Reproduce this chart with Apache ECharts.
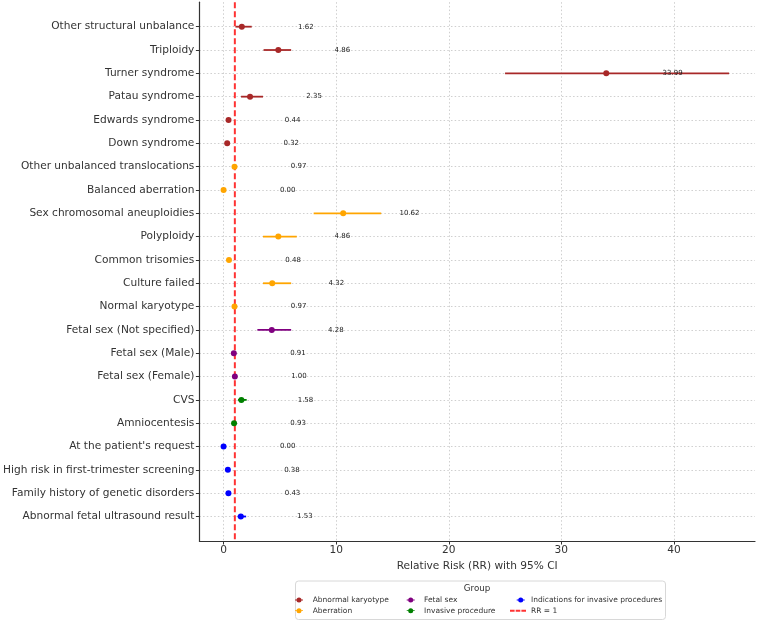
<!DOCTYPE html>
<html>
<head>
<meta charset="utf-8">
<script src="https://cdn.jsdelivr.net/npm/echarts@6/dist/echarts.min.js"></script>
<style>
html,body{margin:0;padding:0;background:#fff;}
#chart{width:758px;height:621px;}
</style>
</head>
<body>
<div id="chart"></div>
<script>
const categories = [
  'Other structural unbalance', 'Triploidy', 'Turner syndrome', 'Patau syndrome',
  'Edwards syndrome', 'Down syndrome', 'Other unbalanced translocations', 'Balanced aberration',
  'Sex chromosomal aneuploidies', 'Polyploidy', 'Common trisomies', 'Culture failed',
  'Normal karyotype', 'Fetal sex (Not specified)', 'Fetal sex (Male)', 'Fetal sex (Female)',
  'CVS', 'Amniocentesis', "At the patient's request", 'High risk in first-trimester screening',
  'Family history of genetic disorders', 'Abnormal fetal ultrasound result'
];
const rowGroup = [
  'Abnormal karyotype', 'Abnormal karyotype', 'Abnormal karyotype', 'Abnormal karyotype',
  'Abnormal karyotype', 'Abnormal karyotype', 'Aberration', 'Aberration',
  'Aberration', 'Aberration', 'Aberration', 'Aberration',
  'Aberration', 'Fetal sex', 'Fetal sex', 'Fetal sex',
  'Invasive procedure', 'Invasive procedure', 'Indications for invasive procedures', 'Indications for invasive procedures',
  'Indications for invasive procedures', 'Indications for invasive procedures'
];
const rr     = [1.62, 4.86, 33.99, 2.35, 0.44, 0.32, 0.97, 0.00, 10.62, 4.86, 0.48, 4.32, 0.97, 4.28, 0.91, 1.00, 1.58, 0.93, 0.00, 0.38, 0.43, 1.53];
const ciLow  = [1.05, 3.55, 25.00, 1.55, 0.35, 0.25, 0.88, 0.00, 8.00, 3.50, 0.38, 3.50, 0.92, 3.00, 0.86, 0.94, 1.28, 0.88, 0.00, 0.30, 0.34, 1.25];
const ciHigh = [2.50, 6.00, 44.90, 3.50, 0.55, 0.41, 1.07, 0.00, 14.00, 6.50, 0.60, 6.00, 1.02, 6.00, 0.97, 1.06, 2.05, 0.98, 0.00, 0.48, 0.54, 2.00];
const groupNames  = ['Abnormal karyotype', 'Aberration', 'Fetal sex', 'Invasive procedure', 'Indications for invasive procedures'];
const groupColors = ['#a82828', '#ffa500', '#800080', '#008000', '#0000ff'];
const xTicks = [0, 10, 20, 30, 40];
const refValue = 1;
const labelShift = 5;

const FONT = "'DejaVu Sans', 'Liberation Sans', sans-serif";
const chart = echarts.init(document.getElementById('chart'), null, {renderer: 'canvas'});

const yIdx = categories.map((c, i) => i);
const series = [];

// red reference line
series.push({
  name: 'RR = 1', type: 'line', z: 2, symbol: 'none', silent: true,
  data: [[refValue, -1.05], [refValue, 22.05]],
  itemStyle: {color: '#ff3333'},
  lineStyle: {color: '#ff3333', width: 2, type: [6, 3]}
});

groupNames.forEach((g, gi) => {
  const rows = yIdx.filter(i => rowGroup[i] === g);
  series.push({
    name: g, type: 'scatter', z: 4, symbol: 'circle', symbolSize: 6,
    itemStyle: {color: groupColors[gi], opacity: 1},
    data: rows.map(i => [rr[i], i])
  });
  series.push({
    name: g, type: 'custom', z: 3,
    itemStyle: {color: groupColors[gi]},
    encode: {x: [1, 2], y: 0},
    data: rows.map(i => [i, ciLow[i], ciHigh[i]]),
    renderItem: function (params, api) {
      const y = api.value(0);
      const p1 = api.coord([api.value(1), y]);
      const p2 = api.coord([api.value(2), y]);
      return {type: 'line', shape: {x1: p1[0], y1: p1[1], x2: p2[0], y2: p2[1]},
              style: {stroke: groupColors[gi], lineWidth: 1.8}};
    }
  });
});

// value labels
series.push({
  name: 'labels', type: 'custom', z: 6, silent: true,
  encode: {x: 1, y: 0},
  data: yIdx.map(i => [i, rr[i]]),
  renderItem: function (params, api) {
    const y = api.value(0);
    const v = api.value(1);
    const p = api.coord([v + labelShift, y]);
    return {type: 'text', x: p[0], y: p[1],
            style: {text: v.toFixed(2), fill: '#222', fontSize: 7, fontFamily: FONT,
                    align: 'left', verticalAlign: 'middle'}};
  }
});

const ebIcon = 'path://M0,2.1L1.6,2.1L1.6,2.9L0,2.9Z M6.4,2.1L8,2.1L8,2.9L6.4,2.9Z M1.5,2.5A2.5,2.5,0,1,1,6.5,2.5A2.5,2.5,0,1,1,1.5,2.5Z';
const dashIcon = 'path://M0,0L4.6,0L4.6,2L0,2Z M5.7,0L10.3,0L10.3,2L5.7,2Z M11.4,0L16,0L16,2L11.4,2Z';
const legendBase = {
  orient: 'vertical', top: 595.5, itemHeight: 5, itemWidth: 8, itemGap: 1.7,
  selectedMode: false, padding: 0,
  textStyle: {fontSize: 7.5, fontFamily: FONT, color: '#333', lineHeight: 9}
};
function leg(names, left, pad) {
  return Object.assign({}, legendBase, {
    left: left,
    textStyle: Object.assign({}, legendBase.textStyle, {padding: [0, 0, 0, pad]}),
    data: names.map(n => ({name: n, icon: ebIcon,
      itemStyle: {color: groupColors[groupNames.indexOf(n)], borderWidth: 0}}))
  });
}

const option = {
  backgroundColor: '#fff',
  animation: false,
  textStyle: {fontFamily: FONT},
  grid: {left: 199, right: 3, top: 2.2, bottom: 80, containLabel: false},
  xAxis: {
    type: 'value', min: -2.15, max: 47.2,
    name: 'Relative Risk (RR) with 95% CI', nameLocation: 'middle', nameGap: 15.5,
    nameTextStyle: {fontSize: 10.6, color: '#333', fontFamily: FONT},
    axisLine: {show: true, onZero: false, lineStyle: {color: '#333', width: 1.2}},
    axisTick: {show: true, length: 3.5, customValues: xTicks, lineStyle: {color: '#333', width: 1}},
    axisLabel: {customValues: xTicks, fontSize: 10.6, color: '#333', margin: 4, fontFamily: FONT},
    splitLine: {show: true, lineStyle: {color: '#c9c9c9', width: 0.9, type: [1.5, 2.2]}}
  },
  yAxis: {
    type: 'value', min: -1.05, max: 22.05, inverse: true,
    axisLine: {show: true, onZero: false, lineStyle: {color: '#333', width: 1.2}},
    axisTick: {show: true, length: 3.5, customValues: yIdx, lineStyle: {color: '#333', width: 1}},
    axisLabel: {customValues: yIdx, fontSize: 10.6, color: '#333', margin: 5, fontFamily: FONT,
                formatter: v => categories[Math.round(v)] || ''},
    splitLine: {show: true, lineStyle: {color: '#c9c9c9', width: 0.9, type: [1.5, 2.2]}}
  },
  legend: [
    leg(['Abnormal karyotype', 'Aberration'], 295, 4.7),
    leg(['Fetal sex', 'Invasive procedure'], 406.7, 4.3),
    leg(['Indications for invasive procedures'], 516.7, 1.3),
    Object.assign({}, legendBase, {
      left: 510, top: 606.2, itemWidth: 16, itemHeight: 2,
      textStyle: Object.assign({}, legendBase.textStyle, {padding: [0, 0, 0, 0]}),
      data: [{name: 'RR = 1', icon: dashIcon, itemStyle: {color: '#ff3333', borderWidth: 0}}]
    })
  ],
  graphic: [
    {type: 'rect', left: 295, top: 580.5, z: 0,
     shape: {width: 370, height: 38.5, r: 3},
     style: {fill: '#fff', stroke: '#d8d8d8', lineWidth: 1}},
    {type: 'text', x: 477, y: 588.5, z: 1,
     style: {text: 'Group', fontSize: 8.7, fontFamily: FONT, fill: '#333', align: 'center', verticalAlign: 'middle'}}
  ],
  series: series
};
chart.setOption(option);
</script>
</body>
</html>
